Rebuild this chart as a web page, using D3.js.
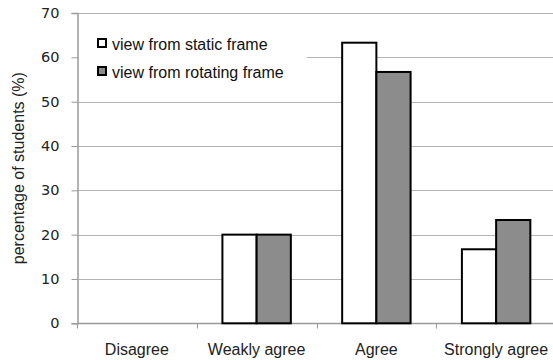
<!DOCTYPE html>
<html>
<head>
<meta charset="utf-8">
<script src="https://cdn.jsdelivr.net/npm/d3@7"></script>
<style>
  html, body { margin: 0; padding: 0; background: #fff; }
  svg { display: block; }
</style>
</head>
<body>
<svg id="chart" width="553" height="360"></svg>
<script>
// Survey responses (percentage of students)
const categories = ["Disagree", "Weakly agree", "Agree", "Strongly agree"];
const seriesNames = ["view from static frame", "view from rotating frame"];
const staticFrame = [0, 20, 63.3, 16.7];
const rotatingFrame = [0, 20, 56.7, 23.3];
const yTicks = [0, 10, 20, 30, 40, 50, 60, 70];
const seriesColors = ["#ffffff", "#8c8c8c"];

const svg = d3.select("#chart");
const margin = { left: 77, right: -3, top: 13, bottom: 37 };
const W = 553, H = 360;
const x0 = margin.left, x1 = W - margin.right;
const yTop = margin.top, yBot = H - margin.bottom + 0.3;

const x = d3.scaleBand().domain(categories).range([x0, x1]).paddingInner(0).paddingOuter(0);
const xs = d3.scaleBand().domain(seriesNames).range([0, x.bandwidth()]).paddingInner(0).paddingOuter(0.75);
const y = d3.scaleLinear().domain([0, 70]).range([yBot, yTop]);

const font = "'Liberation Sans', Arial, sans-serif";

// horizontal gridlines
svg.append("g").selectAll("line").data(yTicks.filter(d => d > 0)).join("line")
  .attr("x1", x0).attr("x2", x1)
  .attr("y1", d => Math.round(y(d)) + 0.5).attr("y2", d => Math.round(y(d)) + 0.5)
  .attr("stroke", "#b4b4b4").attr("stroke-width", 1);

// y axis
const yAxis = svg.append("g")
  .attr("transform", `translate(${x0 + 0.5},0)`)
  .call(d3.axisLeft(y).tickValues(yTicks).tickSize(6).tickPadding(12));
yAxis.select(".domain").attr("stroke", "#9a9a9a").attr("stroke-width", 1.5);
yAxis.selectAll(".tick line").attr("stroke", "#9a9a9a");
yAxis.selectAll(".tick text").attr("font-family", "'DejaVu Sans', Verdana, sans-serif")
  .attr("font-size", 14.5).attr("fill", "#222");

// x axis with ticks at category boundaries
const xAxisG = svg.append("g").attr("transform", `translate(0,${Math.round(yBot) + 0.5})`);
xAxisG.append("line").attr("x1", x0).attr("x2", x1).attr("stroke", "#9a9a9a").attr("stroke-width", 1.5);
xAxisG.selectAll("line.tk").data(categories).join("line").attr("class", "tk")
  .attr("x1", d => Math.round(x(d)) + 0.5).attr("x2", d => Math.round(x(d)) + 0.5)
  .attr("y1", 0).attr("y2", 5).attr("stroke", "#9a9a9a");
xAxisG.selectAll("text").data(categories).join("text")
  .attr("x", d => x(d) + x.bandwidth() / 2).attr("y", 31)
  .attr("text-anchor", "middle").attr("font-family", font).attr("font-size", 16).attr("fill", "#222")
  .text(d => d);

// y axis title
svg.append("text")
  .attr("transform", `translate(24,${(yTop + yBot) / 2}) rotate(-90)`)
  .attr("text-anchor", "middle").attr("font-family", font).attr("font-size", 16).attr("fill", "#222")
  .text("percentage of students (%)");

// legend (white background hides gridline behind it)
const legend = svg.append("g");
legend.append("rect").attr("x", x0 + 2).attr("y", 33).attr("width", 228).attr("height", 50).attr("fill", "#fff");
const series = [staticFrame, rotatingFrame];
seriesNames.forEach((name, i) => {
  const gy = 39 + i * 28;
  legend.append("rect").attr("x", 98).attr("y", gy).attr("width", 8).attr("height", 8)
    .attr("fill", seriesColors[i]).attr("stroke", "#000").attr("stroke-width", 2);
  legend.append("text").attr("x", 112).attr("y", gy + 11)
    .attr("font-family", font).attr("font-size", 16).attr("fill", "#111").text(name);
});

// bars
const groups = svg.append("g").selectAll("g").data(categories).join("g")
  .attr("transform", d => `translate(${x(d)},0)`);
groups.selectAll("rect").data((d, ci) => seriesNames.map((s, si) => ({ s, si, v: series[si][ci] })))
  .join("rect")
  .filter(d => d.v > 0)
  .attr("x", d => xs(d.s))
  .attr("width", xs.bandwidth())
  .attr("y", d => y(d.v))
  .attr("height", d => y(0) - y(d.v))
  .attr("fill", d => seriesColors[d.si])
  .attr("stroke", "#000").attr("stroke-width", 2);
</script>
</body>
</html>
